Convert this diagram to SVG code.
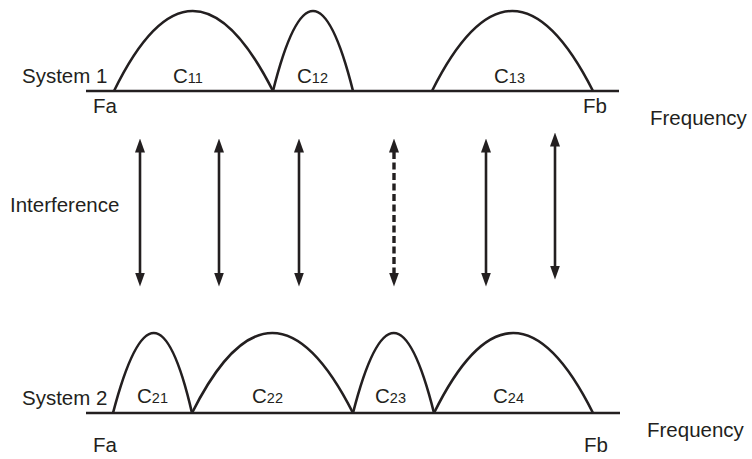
<svg xmlns="http://www.w3.org/2000/svg" width="752" height="459" viewBox="0 0 752 459">
  <style>
    .axis { stroke: #231f20; stroke-width: 2.6; fill: none; }
    .hump { stroke: #231f20; stroke-width: 2.6; fill: none; stroke-linejoin: round; }
    .lbl { font-family: "Liberation Sans", Arial, sans-serif; font-size: 20.5px; fill: #231f20; }
    .sub { font-size: 14.5px; }
    .arrow { stroke: #231f20; stroke-width: 2.6; fill: none; marker-start: url(#head); marker-end: url(#head); }
    .dashed { stroke-width: 3.4; stroke-dasharray: 7 3.5; }
  </style>
  <defs>
    <marker id="head" markerUnits="userSpaceOnUse" viewBox="0 0 14 10" markerWidth="14" markerHeight="10" refX="0.5" refY="5" orient="auto-start-reverse">
      <path d="M0,0 L14,5 L0,10 z" fill="#231f20"/>
    </marker>
  </defs>

  <!-- System 1 spectrum -->
  <g id="system1">
    <line class="axis" x1="86" y1="91" x2="619" y2="91"/>
    <text class="lbl" x="22" y="83">System 1</text>
    <text class="lbl" x="93" y="113">Fa</text>
    <text class="lbl" x="583" y="113">Fb</text>
  </g>
  <g id="c11">
    <path class="hump" d="M114,91 Q192,-69 273,91"/>
    <text class="lbl" x="173" y="83">C<tspan class="sub">11</tspan></text>
  </g>
  <g id="c12">
    <path class="hump" d="M273,91 Q313,-69 353,91"/>
    <text class="lbl" x="297" y="83">C<tspan class="sub">12</tspan></text>
  </g>
  <g id="c13">
    <path class="hump" d="M432,91 Q512,-69 593,91"/>
    <text class="lbl" x="494" y="83">C<tspan class="sub">13</tspan></text>
  </g>
  <g id="freq1">
    <text class="lbl" x="650" y="125">Frequency</text>
  </g>

  <g id="interference">
    <text class="lbl" x="10" y="212">Interference</text>
  </g>

  <!-- System 2 spectrum -->
  <g id="system2">
    <line class="axis" x1="86" y1="413" x2="620" y2="413"/>
    <text class="lbl" x="22" y="405">System 2</text>
    <text class="lbl" x="93" y="452">Fa</text>
    <text class="lbl" x="584" y="452">Fb</text>
  </g>
  <g id="c21">
    <path class="hump" d="M113,413 Q155,253 192,413"/>
    <text class="lbl" x="137" y="403">C<tspan class="sub">21</tspan></text>
  </g>
  <g id="c22">
    <path class="hump" d="M192,413 Q272,253 353,413"/>
    <text class="lbl" x="252" y="403">C<tspan class="sub">22</tspan></text>
  </g>
  <g id="c23">
    <path class="hump" d="M353,413 Q394,253 434,413"/>
    <text class="lbl" x="375" y="403">C<tspan class="sub">23</tspan></text>
  </g>
  <g id="c24">
    <path class="hump" d="M434,413 Q513,253 593,413"/>
    <text class="lbl" x="493" y="403">C<tspan class="sub">24</tspan></text>
  </g>
  <g id="freq2">
    <text class="lbl" x="647" y="437">Frequency</text>
  </g>

  <!-- Interference links between the two spectra -->
  <g id="connectors">
    <line class="arrow" x1="140" y1="152" x2="140" y2="273"/>
    <line class="arrow" x1="219" y1="152" x2="219" y2="273"/>
    <line class="arrow" x1="299" y1="152" x2="299" y2="273"/>
    <line class="arrow dashed" x1="394" y1="152" x2="394" y2="273"/>
    <line class="arrow" x1="486" y1="152" x2="486" y2="273"/>
    <line class="arrow" x1="555" y1="146" x2="555" y2="266"/>
  </g>
</svg>
